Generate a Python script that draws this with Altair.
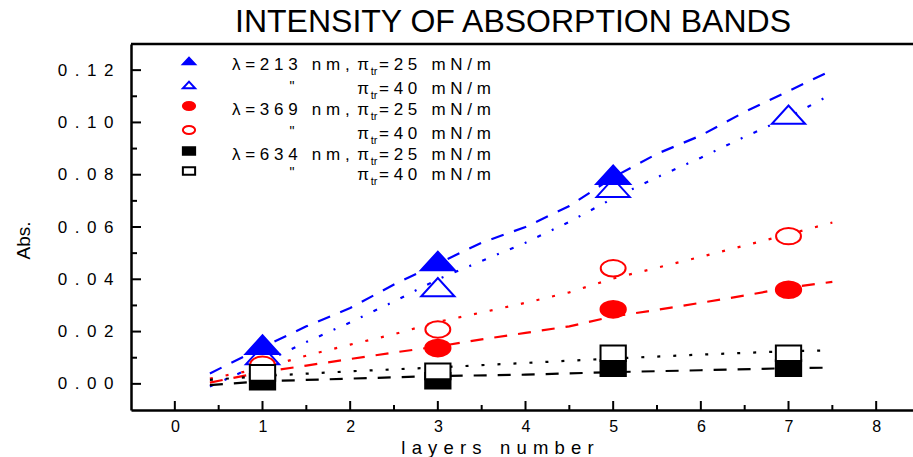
import altair as alt
import pandas as pd

FONT = "Liberation Sans, Arial, sans-serif"
NB = "\u00a0"

# ---------------- data ----------------
# measured points (layers number -> absorbance)
b25_x = [1, 3, 5]
b25_y = [0.0150, 0.0470, 0.0800]
b40_x = [1, 3, 5, 7]
b40_y = [0.0110, 0.0370, 0.0750, 0.1030]
r25_x = [3, 5, 7]
r25_y = [0.0137, 0.0285, 0.0360]
r40_x = [1, 3, 5, 7]
r40_y = [0.0073, 0.0208, 0.0442, 0.0565]
k25_x = [1, 3, 5, 7]
k25_y = [0.0008, 0.0012, 0.0060, 0.0060]
k40_x = [1, 3, 5, 7]
k40_y = [0.0042, 0.0048, 0.0117, 0.0117]

# fitted curves
fit_x = [0.4, 1, 1.5, 2, 2.5, 3, 3.5, 4, 4.5, 5, 5.5, 6, 6.5, 7, 7.5]
b25_fit = [0.004, 0.014, 0.022, 0.029, 0.038, 0.046, 0.054, 0.060, 0.068, 0.079, 0.088, 0.095, 0.104, 0.112, 0.120]
b40_fit = [-0.001, 0.008, 0.016, 0.0235, 0.0315, 0.040, 0.047, 0.054, 0.062, 0.071, 0.079, 0.0865, 0.0945, 0.102, 0.111]
r25_fit = [0.0005, 0.0045, 0.007, 0.0095, 0.012, 0.0143, 0.017, 0.0195, 0.022, 0.0258, 0.0283, 0.031, 0.0338, 0.0368, 0.039]
r40_fit = [0.002, 0.006, 0.0108, 0.015, 0.019, 0.0237, 0.0273, 0.031, 0.035, 0.0403, 0.0444, 0.0486, 0.0529, 0.0572, 0.0617]
kfit_x = [0.4, 1, 2, 3, 4, 5, 6, 7, 7.5]
k25_fit = [-0.0005, 0.001, 0.002, 0.003, 0.0035, 0.0045, 0.0052, 0.006, 0.0062]
k40_fit = [0.0015, 0.003, 0.0048, 0.0063, 0.008, 0.0097, 0.0112, 0.0125, 0.0128]

# axis ticks
x_major = [0, 1, 2, 3, 4, 5, 6, 7, 8]
x_minor = [0.5, 1.5, 2.5, 3.5, 4.5, 5.5, 6.5, 7.5]
y_major = [0.0, 0.02, 0.04, 0.06, 0.08, 0.10, 0.12]
y_minor = [0.01, 0.03, 0.05, 0.07, 0.09, 0.11]

# text
title_text = "INTENSITY OF ABSORPTION BANDS"
x_title = "l a y e r s   n u m b e r"
y_title = "Abs."
legend_left = ["λ = 2 1 3   n m ,", "\"", "λ = 3 6 9   n m ,", "\"", "λ = 6 3 4   n m ,", "\""]
legend_right = ["= 2 5   m N / m", "= 4 0   m N / m", "= 2 5   m N / m",
                "= 4 0   m N / m", "= 2 5   m N / m", "= 4 0   m N / m"]

# ---------------- layout ----------------
W, H = 782, 366
XDOM = [-0.5, 8.42]
YDOM = [-0.01, 0.13]

BLUE, RED, BLACK = "#0000ff", "#ff0000", "#000000"
TRI = "M-1,0.55L1,0.55L0,-0.55Z"
ELL = "M-1,0A1,0.66,0,1,0,1,0A1,0.66,0,1,0,-1,0Z"
RECT = "M-1,-0.62L1,-0.62L1,0.62L-1,0.62Z"


def spaced(s, gap):
    return s.replace("   ", gap * 3).replace(" ", gap)


xs = alt.Scale(domain=XDOM, nice=False, zero=False)
ys = alt.Scale(domain=YDOM, nice=False, zero=False)
xaxis = alt.Axis(values=x_major, title=spaced(x_title, "\u2004"), ticks=False, tickSize=0,
                 grid=False, labelFontSize=16, labelPadding=8, labelColor="black",
                 labelFont=FONT, domainColor="black", domainWidth=2.5,
                 titleFont=FONT, titleFontSize=18.5, titleFontWeight="normal",
                 titleColor="black", titleX=366, titleY=43, titleBaseline="alphabetic",
                 titleAlign="center")
yaxis = alt.Axis(values=y_major, title=y_title, ticks=False, tickSize=0, grid=False,
                 labelExpr="join(split(format(datum.value, '.2f'), ''), '\u00a0\u2006')",
                 labelFontSize=17, labelPadding=18, labelColor="black", labelFont=FONT,
                 domainColor="black", domainWidth=2.5,
                 titleFont=FONT, titleFontSize=19, titleFontWeight="normal",
                 titleColor="black", titleX=-108, titleY=196, titleAngle=270,
                 titleBaseline="middle", titleAlign="center")


def X(f):
    return alt.X(f, type="quantitative", scale=xs, axis=xaxis)


def Y(f):
    return alt.Y(f, type="quantitative", scale=ys, axis=yaxis)


layers = []

# fitted lines
for fx, fy, col, dash in [
    (fit_x, b25_fit, BLUE, [13, 11]),
    (fit_x, b40_fit, BLUE, [4, 12, 2, 12]),
    (fit_x, r25_fit, RED, [13, 11]),
    (fit_x, r40_fit, RED, [3, 13]),
    (kfit_x, k25_fit, BLACK, [13, 11]),
    (kfit_x, k40_fit, BLACK, [3, 13]),
]:
    df = pd.DataFrame({"x": fx, "y": fy})
    layers.append(alt.Chart(df).mark_line(color=col, strokeDash=dash, strokeWidth=2.2)
                  .encode(x=X("x"), y=Y("y")))

# markers
for mx, my, col, shape, size, filled in [
    (b40_x, b40_y, BLUE, TRI, 1100, False),
    (b25_x, b25_y, BLUE, TRI, 1150, True),
    (r25_x, r25_y, RED, ELL, 640, True),
    (r40_x, r40_y, RED, ELL, 620, False),
    (k25_x, k25_y, BLACK, RECT, 640, True),
    (k40_x, k40_y, BLACK, RECT, 640, False),
]:
    df = pd.DataFrame({"x": mx, "y": my})
    layers.append(alt.Chart(df).mark_point(shape=shape, size=size, filled=False,
                                           fill=col if filled else "white",
                                           stroke=col, strokeWidth=2, opacity=1)
                  .encode(x=X("x"), y=Y("y")))

# inward ticks
for vals, ln in [(y_major, 10), (y_minor, 6)]:
    layers.append(alt.Chart(pd.DataFrame({"y": vals})).mark_rule(color="black", strokeWidth=2)
                  .encode(y=Y("y"), x=alt.value(0), x2=alt.value(ln)))
for vals, ln in [(x_major, 9), (x_minor, 5)]:
    layers.append(alt.Chart(pd.DataFrame({"x": vals})).mark_rule(color="black", strokeWidth=2)
                  .encode(x=X("x"), y=alt.value(H), y2=alt.value(H - ln)))

# top frame line
layers.append(alt.Chart(pd.DataFrame({"y": [YDOM[1]]})).mark_rule(color="black", strokeWidth=2.5)
              .encode(y=Y("y"), x=alt.value(0), x2=alt.value(W)))

# legend
leg_rows_y = [17, 41, 62, 86, 107, 127]
leg_syms = [(BLUE, TRI, True), (BLUE, TRI, False), (RED, ELL, True), (RED, ELL, False),
            (BLACK, RECT, True), (BLACK, RECT, False)]
one = pd.DataFrame({"t": [""]})
for i, (col, shape, filled) in enumerate(leg_syms):
    py = leg_rows_y[i]
    layers.append(alt.Chart(one).mark_point(shape=shape, size=150, filled=False,
                                            fill=col if filled else "white", stroke=col,
                                            strokeWidth=2, opacity=1)
                  .encode(x=alt.value(58), y=alt.value(py)))
    ty = py + 4
    left = legend_left[i]
    if left == "\"":
        layers.append(alt.Chart(pd.DataFrame({"t": [left]})).mark_text(
            font=FONT, fontSize=14, align="center", baseline="middle", color="black")
            .encode(x=alt.value(161), y=alt.value(ty - 2), text="t:N"))
    else:
        layers.append(alt.Chart(pd.DataFrame({"t": [spaced(left, NB)]})).mark_text(
            font=FONT, fontSize=17, align="left", baseline="middle", color="black")
            .encode(x=alt.value(101), y=alt.value(ty), text="t:N"))
    layers.append(alt.Chart(pd.DataFrame({"t": ["π"]})).mark_text(
        font=FONT, fontSize=17, align="center", baseline="middle", color="black")
        .encode(x=alt.value(232), y=alt.value(ty), text="t:N"))
    layers.append(alt.Chart(pd.DataFrame({"t": ["tr"]})).mark_text(
        font=FONT, fontSize=11, align="center", baseline="middle", color="black")
        .encode(x=alt.value(243), y=alt.value(ty + 7), text="t:N"))
    layers.append(alt.Chart(pd.DataFrame({"t": [spaced(legend_right[i], NB)]})).mark_text(
        font=FONT, fontSize=17, align="left", baseline="middle", color="black")
        .encode(x=alt.value(248), y=alt.value(ty), text="t:N"))

chart = alt.layer(*layers).properties(
    width=W, height=H,
    autosize=alt.AutoSizeParams(type="none"),
    padding={"left": 131, "top": 44, "right": 0, "bottom": 47},
    title=alt.TitleParams(title_text, font=FONT, fontSize=32, fontWeight="normal",
                          color="black", anchor="middle", offset=4, dx=-9),
).configure_view(stroke=None).configure(background="white")

chart.save("out.html", embed_options={"renderer": "svg", "actions": False})
